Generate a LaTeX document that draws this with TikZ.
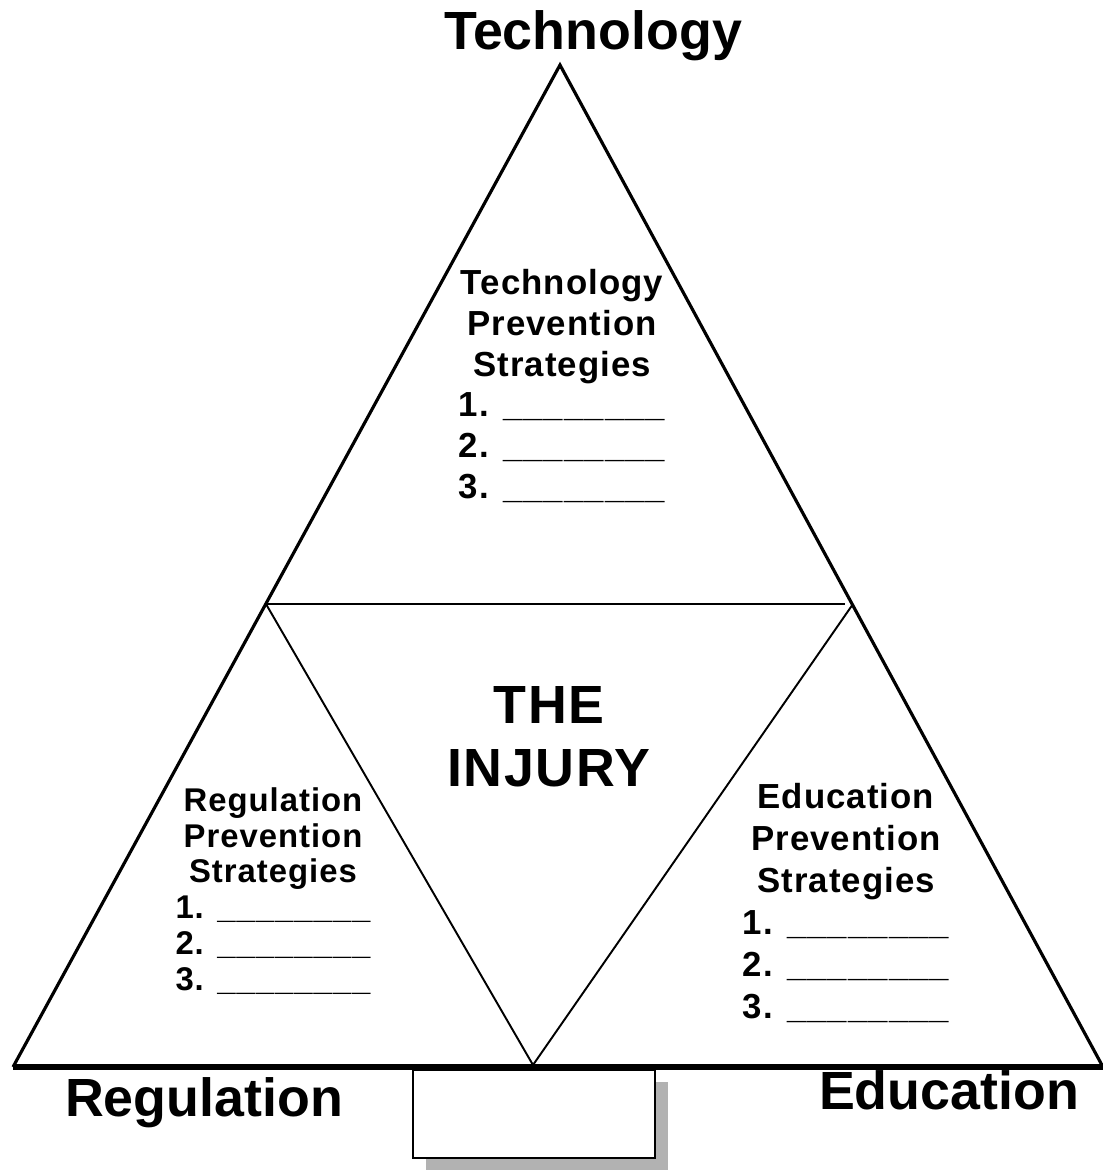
\documentclass[tikz,border=0pt]{standalone}
\usepackage{fontspec}
\setmainfont{Liberation Sans}
\newfontfamily\spacedsans[LetterSpace=3]{Liberation Sans}
\usetikzlibrary{shadows}

\begin{document}
\begin{tikzpicture}[x=0.02cm, y=-0.02cm, font=\bfseries,
    outer/.style = {line width=1.8pt},
    base/.style = {line width=2.9pt},
    inner/.style = {line width=1.1pt},
    corner/.style = {font=\fontsize{30.6}{36}\bfseries},
    injury/.style = {align=center, font=\fontsize{30.6}{35.7}\spacedsans\bfseries},
    strat/.style = {align=center, inner sep=0pt, font=\fontsize{19.8}{23.2}\spacedsans\bfseries},
    stratsm/.style = {align=center, inner sep=0pt, font=\fontsize{18.7}{20.4}\spacedsans\bfseries},
    blank/.style = {draw, line width=1.1pt, fill=white, minimum width=4.84cm, minimum height=1.76cm,
        drop shadow={shadow xshift=0.26cm, shadow yshift=-0.24cm, fill=black!30, opacity=1}}]
                \useasboundingbox (0,0) rectangle (1103,1171);
                \coordinate (top) at (560,65);
                \coordinate (bl) at (13,1067);
                \coordinate (br) at (1103,1067);
                \coordinate (ml) at (266,604);
                \coordinate (mr) at (853,604);
                \coordinate (mh) at (845,604);
                \coordinate (mb) at (533,1065);
                \draw[outer] (bl) -- (top) -- (br);
                \draw[inner] (ml) -- (mh);
                \draw[inner] (ml) -- (mb) -- (mr);
                \draw[base] (bl) -- (br);
                \node[blank] (box) at (534,1114) {};
                \node[corner] (tech) at (593,36) {Technology};
                \node[corner] (reg) at (204,1103) {Regulation};
                \node[corner] (edu) at (949,1090) {Education};
                \node[injury] (inj) at (549,737) {THE\\INJURY};
                \node[strat] (ts) at (562,386) {Technology\\Prevention\\Strategies\\1. \_\_\_\_\_\_\_\_\\2. \_\_\_\_\_\_\_\_\\3. \_\_\_\_\_\_\_\_};
                \node[stratsm] (rs) at (273,891) {Regulation\\Prevention\\Strategies\\1. \_\_\_\_\_\_\_\_\\2. \_\_\_\_\_\_\_\_\\3. \_\_\_\_\_\_\_\_};
                \node[strat, font=\fontsize{19.8}{23.8}\spacedsans\bfseries] (es) at (846,903) {Education\\Prevention\\Strategies\\1. \_\_\_\_\_\_\_\_\\2. \_\_\_\_\_\_\_\_\\3. \_\_\_\_\_\_\_\_};
\end{tikzpicture}
\end{document}
